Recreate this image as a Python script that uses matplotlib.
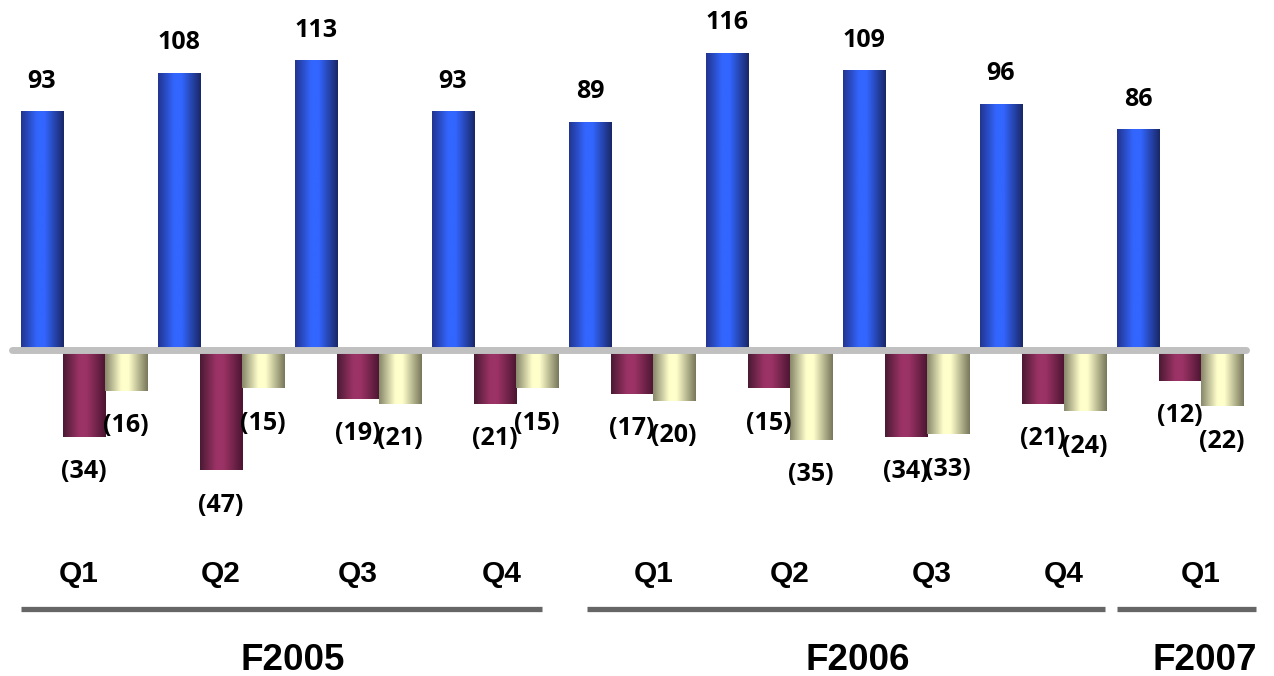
import numpy as np
import matplotlib
matplotlib.use("Agg")
import matplotlib.pyplot as plt
from matplotlib.colors import LinearSegmentedColormap

# Quarterly figures
quarters = ["Q1", "Q2", "Q3", "Q4", "Q1", "Q2", "Q3", "Q4", "Q1"]
years = ["F2005", "F2006", "F2007"]
series_a = [93, 108, 113, 93, 89, 116, 109, 96, 86]
series_b = [-34, -47, -19, -21, -17, -15, -34, -21, -12]
series_c = [-16, -15, -21, -15, -20, -35, -33, -24, -22]

W, H, DPI = 1274, 676, 100
fig = plt.figure(figsize=(W / DPI, H / DPI), dpi=DPI)
ax = fig.add_axes([0, 0, 1, 1])
ax.set_axis_off()

# pixel geometry -> data limits (1 unit on x = one quarter group)
px_per_group = 137.0
px_per_unit = 2.56
x0_px, base_px = 84.0, 350.0
xlim = (-x0_px / px_per_group, (W - x0_px) / px_per_group)
ylim = (-(H - base_px) / px_per_unit, base_px / px_per_unit)

bw = 0.307
x = np.arange(len(quarters))

def cyl_cmap(dark_l, bright, dark_r, name):
    return LinearSegmentedColormap.from_list(
        name, [(0.0, dark_l), (0.38, bright), (0.55, bright), (1.0, dark_r)])

cmaps = [
    cyl_cmap("#22348f", "#3366ff", "#1a2766", "blue"),
    cyl_cmap("#4a1a33", "#9c3366", "#4a1530", "maroon"),
    cyl_cmap("#86866a", "#ffffcc", "#76765a", "cream"),
]
grad = np.linspace(0, 1, 256).reshape(1, -1)

groups = []
for k, (vals, cm) in enumerate(zip([series_a, series_b, series_c], cmaps)):
    bars = ax.bar(x + (k - 1) * bw, vals, width=bw, color=cm(0.45),
                  linewidth=0, zorder=2)
    for b in bars:
        bx, by = b.get_x(), b.get_y()
        ax.imshow(grad, cmap=cm, aspect="auto", zorder=2.5,
                  extent=(bx, bx + b.get_width(), by, by + b.get_height()),
                  interpolation="bicubic")
    groups.append(bars)

# baseline
ax.plot([-0.526, 8.48], [0, 0], color="#c0c0c0", lw=5,
        solid_capstyle="round", zorder=3)

val_font = dict(family=["Open Sans", "DejaVu Sans"], weight="bold",
                fontsize=18, color="black")
for b, v in zip(groups[0], series_a):
    ax.annotate(f"{v}", (b.get_x() + b.get_width() / 2, v),
                xytext=(0, 22), textcoords="offset points",
                ha="center", va="center", **val_font)
for bars, vals in zip(groups[1:], [series_b, series_c]):
    for b, v in zip(bars, vals):
        ax.annotate(f"({-v})", (b.get_x() + b.get_width() / 2, v),
                    xytext=(0, -25), textcoords="offset points",
                    ha="center", va="center", **val_font)

# quarter labels
cat_font = dict(family=["Liberation Sans", "DejaVu Sans"], weight="bold",
                color="black")
q_nudge = [-0.04, 0.0, 0.0, 0.05, 0.16, 0.15, 0.19, 0.15, 0.15]
q_y = (base_px - 574) / px_per_unit
for xi, q, nd in zip(x, quarters, q_nudge):
    ax.text(xi + nd, q_y, q, ha="center", va="center", fontsize=21.5,
            **cat_font)

# fiscal-year brackets
spans = [(-0.46, 3.343), (3.672, 7.453), (7.54, 8.555)]
label_x = [1.52, 5.65, 8.18]
line_y = (base_px - 609) / px_per_unit
lab_y = (base_px - 660) / px_per_unit
for (a, bnd), lx, yr in zip(spans, label_x, years):
    ax.plot([a, bnd], [line_y, line_y], color="#666666", lw=3.8,
            solid_capstyle="butt", clip_on=False)
    ax.text(lx, lab_y, yr, ha="center", va="center", fontsize=26.5,
            **cat_font)

ax.set_xlim(*xlim)
ax.set_ylim(*ylim)
fig.savefig("out.png", dpi=DPI)
